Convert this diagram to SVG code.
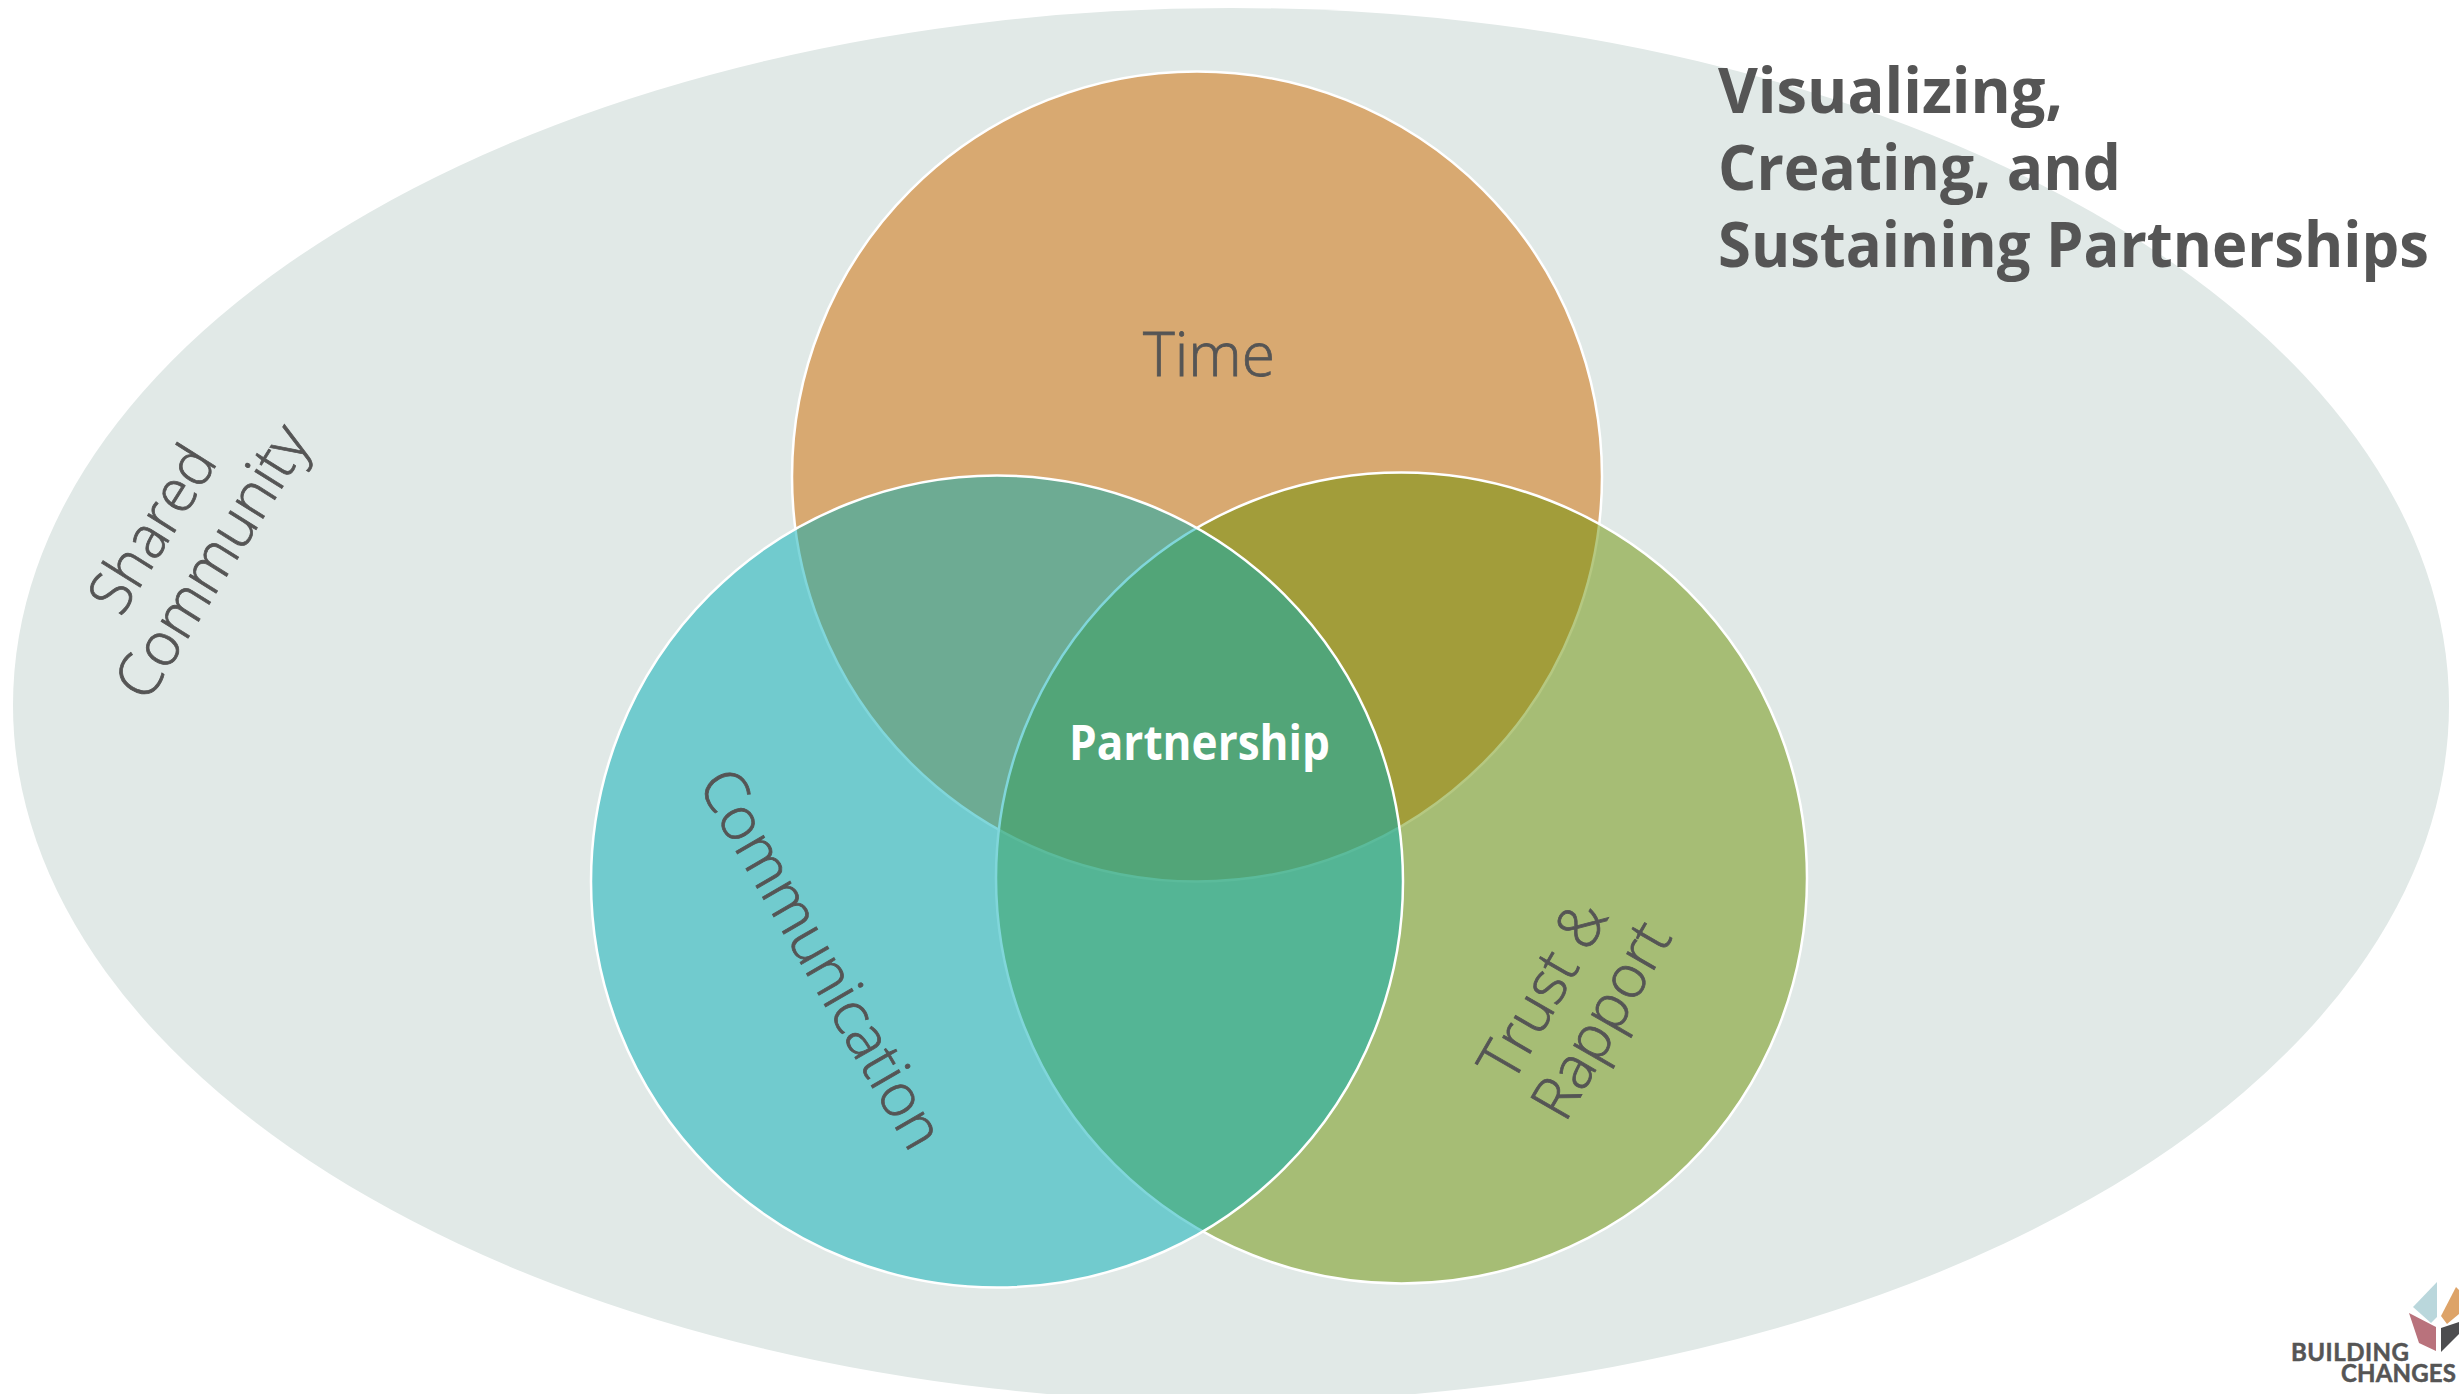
<svg xmlns="http://www.w3.org/2000/svg" width="2459" height="1394" viewBox="0 0 2459 1394">
<style>
text{font-family:"Open Sans","Noto Sans","Liberation Sans",sans-serif;fill:#555}
.l{font-size:60px;font-weight:300;stroke:#555;stroke-width:.8}
.t{font-size:63px;font-weight:700}
.c{stroke:#fff;stroke-width:2.5}
.b{font-family:Lato,"Liberation Sans",sans-serif;font-size:24px;font-weight:700;stroke:#555;stroke-width:.5}
</style>
<rect width="2459" height="1394" fill="#fff"/>
<g id="shared-community">
<ellipse cx="1231" cy="705" rx="1218" ry="697" fill="#E1E9E7"/>
<text class="l" transform="translate(121 618) rotate(-58)" textLength="184" lengthAdjust="spacingAndGlyphs">Shared</text>
<text class="l" transform="translate(147 704) rotate(-58)" textLength="310" lengthAdjust="spacingAndGlyphs">Community</text>
</g>
<g id="time">
<circle class="c" cx="1197" cy="476.5" r="405" fill="#D8A971"/>
<text class="l" x="1143" y="376" textLength="132" lengthAdjust="spacingAndGlyphs">Time</text>
</g>
<g id="trust-rapport">
<circle class="c" cx="1401.5" cy="878" r="405.5" fill="#6B9103" fill-opacity=".5"/>
<text class="l" transform="translate(1512 1085) rotate(-60)" textLength="195" lengthAdjust="spacingAndGlyphs">Trust &amp;</text>
<text class="l" transform="translate(1565 1124) rotate(-60)" textLength="216" lengthAdjust="spacingAndGlyphs">Rapport</text>
</g>
<g id="communication">
<circle class="c" cx="997" cy="881.5" r="406" fill="#01ADB5" fill-opacity=".5"/>
<text class="l" transform="translate(697 784) rotate(60)" textLength="427" lengthAdjust="spacingAndGlyphs">Communication</text>
</g>
<g id="partnership">
<text x="1069" y="760" font-size="48" font-weight="700" style="fill:#fff" textLength="261" lengthAdjust="spacingAndGlyphs">Partnership</text>
</g>
<g id="title">
<text class="t" x="1718" y="113" textLength="345" lengthAdjust="spacingAndGlyphs">Visualizing,</text>
<text class="t" x="1718" y="190" textLength="403" lengthAdjust="spacingAndGlyphs">Creating, and</text>
<text class="t" x="1718" y="267" textLength="711" lengthAdjust="spacingAndGlyphs">Sustaining Partnerships</text>
</g>
<g id="logo">
<polygon points="2437,1282 2413,1307 2431,1323 2437,1317" fill="#BAD7DC"/>
<polygon points="2456,1287 2441,1316 2447,1324 2459,1314 2459,1290" fill="#DDA368"/>
<polygon points="2409,1313 2436,1327 2436,1351 2419,1343" fill="#B9727C"/>
<polygon points="2441,1328 2441,1352 2459,1334 2459,1322" fill="#4D4D4F"/>
<text class="b" x="2291" y="1361" textLength="118" lengthAdjust="spacing">BUILDING</text>
<text class="b" x="2341" y="1382" textLength="115" lengthAdjust="spacing">CHANGES</text>
</g>
<g id="connectors"/>
</svg>
